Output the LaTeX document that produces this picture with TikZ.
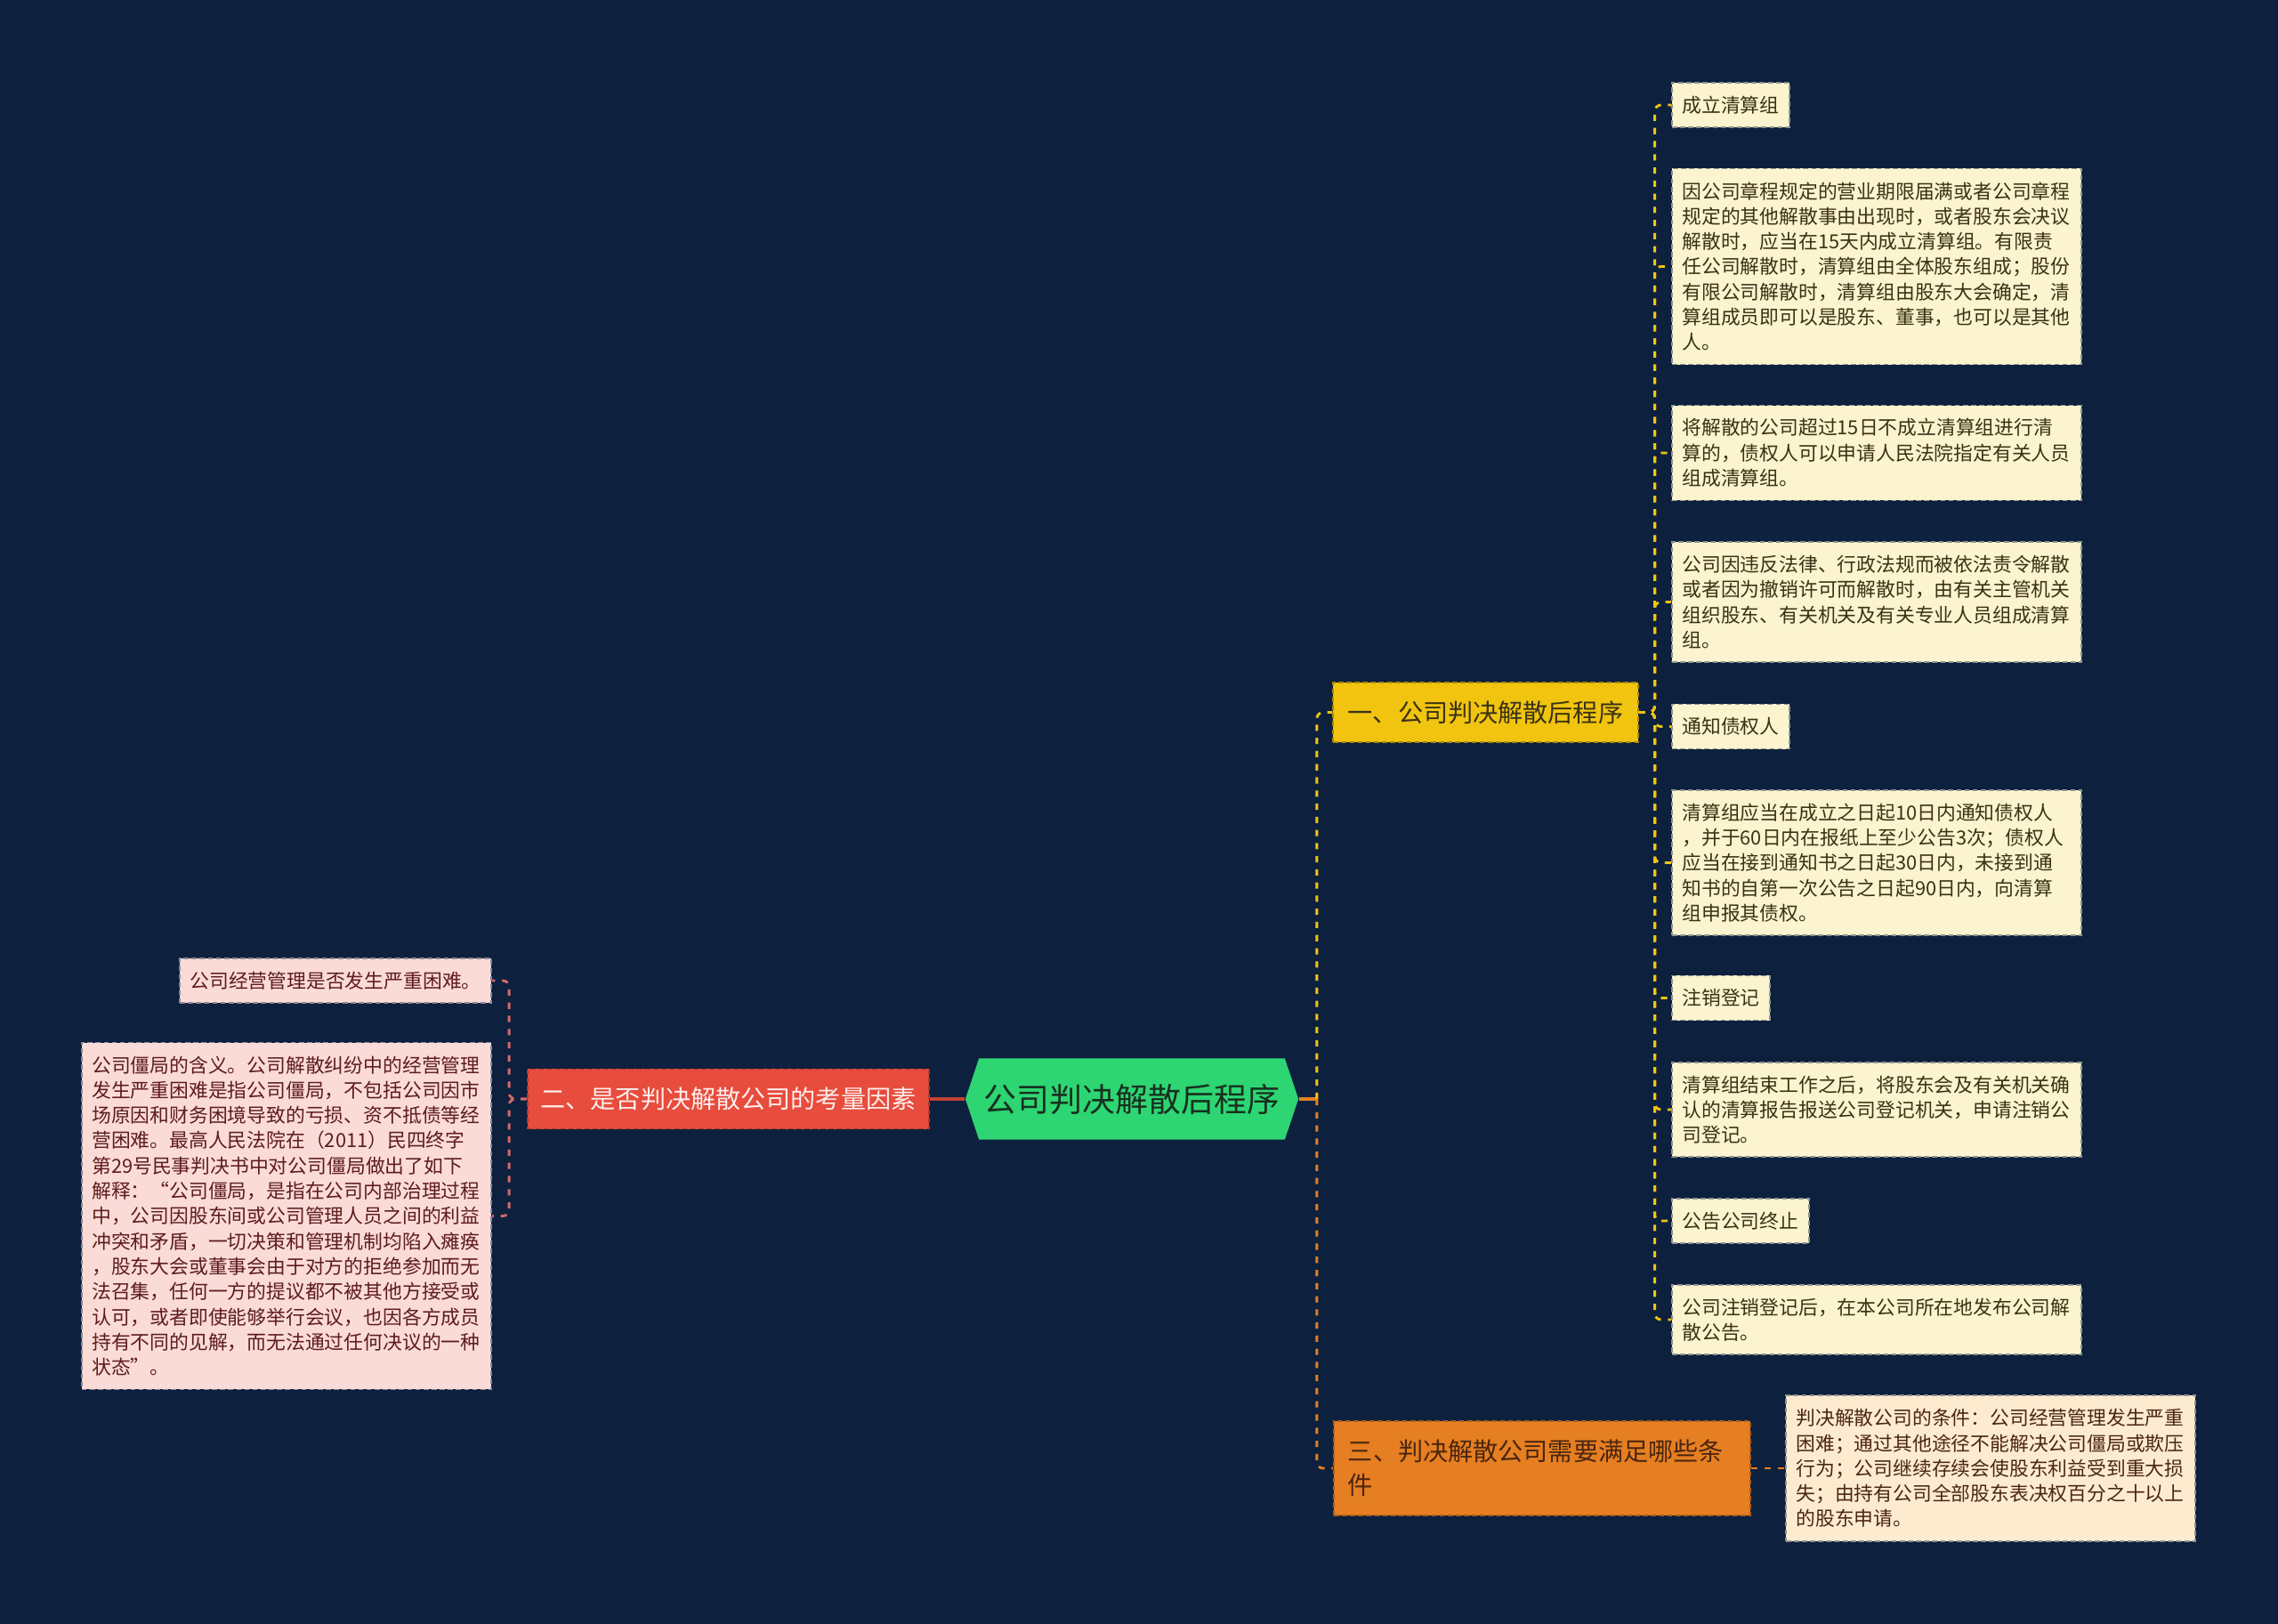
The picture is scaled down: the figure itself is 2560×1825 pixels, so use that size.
\documentclass[tikz,border=0pt]{standalone}
\usepackage{fontspec}
\newfontfamily\cjk{Noto Sans CJK SC}
\usetikzlibrary{shapes.symbols}
\definecolor{BgClr}{HTML}{0D213F}
\definecolor{RootClr}{HTML}{2ED573}
\definecolor{RootTxtClr}{HTML}{17301F}
\definecolor{YelClr}{HTML}{F1C40F}
\definecolor{RedClr}{HTML}{E74C3C}
\definecolor{OraClr}{HTML}{E67E22}
\definecolor{RConnClr}{HTML}{D46A6A}
\definecolor{YLeafClr}{HTML}{FCF3CF}
\definecolor{RLeafClr}{HTML}{FADBD8}
\definecolor{OLeafClr}{HTML}{FDEBD0}
\definecolor{YTxtClr}{HTML}{3A3214}
\definecolor{RTxtClr}{HTML}{5E1C1C}
\definecolor{OTxtClr}{HTML}{4A2610}
\definecolor{RedTxtClr}{HTML}{FDEDEC}

\begin{document}
\begin{tikzpicture}[x=0.01cm,y=-0.01cm,
  leaf/.style={font=\cjk\fontsize{6.2pt}{8.05pt}\selectfont, align=left,
    inner xsep=0.115cm, inner ysep=0.15cm, line width=0.5pt, dash pattern=on 1.6pt off 1pt},
  wide/.style={text width=4.37cm},
  yleaf/.style={leaf, fill=YLeafClr, draw=YLeafClr!55!BgClr, text=YTxtClr, anchor=west},
  rleaf/.style={leaf, fill=RLeafClr, draw=RLeafClr!55!BgClr, text=RTxtClr, anchor=east},
  oleaf/.style={leaf, fill=OLeafClr, draw=OLeafClr!55!BgClr, text=OTxtClr, anchor=west},
  branch/.style={font=\cjk\fontsize{8pt}{10.8pt}\selectfont, inner ysep=0pt,
    minimum height=0.67cm, line width=0.5pt, dash pattern=on 1.6pt off 1pt},
  conn/.style={line width=0.8pt, dash pattern=on 2pt off 2.2pt, rounded corners=2pt},
  stem/.style={line width=0.9pt}]

\fill[BgClr] (0,0) rectangle (2560,1825);

\node[signal, signal to=west and east, signal pointer angle=143, fill=RootClr,
  text=RootTxtClr, minimum width=3.74cm, minimum height=0.91cm, inner sep=0pt,
  font=\cjk\fontsize{10.5pt}{12pt}\selectfont] (Root) at (1272,1235) {公司判决解散后程序};

\node[branch, fill=YelClr, draw=YelClr!70!black, text=YTxtClr, inner xsep=0.165cm]
  (B1) at (1669.5,800.5) {一、公司判决解散后程序};
\node[branch, fill=RedClr, draw=RedClr!75!black, text=RedTxtClr, inner xsep=0.145cm]
  (B2) at (818.5,1235) {二、是否判决解散公司的考量因素};
\node[branch, fill=OraClr, draw=OraClr!75!black, text=OTxtClr, text width=4.36cm,
  align=left, inner xsep=0.16cm, minimum height=1.06cm]
  (B3) at (1733,1650) {三、判决解散公司需要满足哪些条\\件};

\node[yleaf] (Y1) at (1878,118) {成立清算组};
\node[yleaf, wide] (Y2) at (1878,299.5) {因公司章程规定的营业期限届满或者公司章程\\规定的其他解散事由出现时，或者股东会决议\\解散时，应当在15天内成立清算组。有限责\\任公司解散时，清算组由全体股东组成；股份\\有限公司解散时，清算组由股东大会确定，清\\算组成员即可以是股东、董事，也可以是其他\\人。};
\node[yleaf, wide] (Y3) at (1878,509) {将解散的公司超过15日不成立清算组进行清\\算的，债权人可以申请人民法院指定有关人员\\组成清算组。};
\node[yleaf, wide] (Y4) at (1878,676.5) {公司因违反法律、行政法规而被依法责令解散\\或者因为撤销许可而解散时，由有关主管机关\\组织股东、有关机关及有关专业人员组成清算\\组。};
\node[yleaf] (Y5) at (1878,816.5) {通知债权人};
\node[yleaf, wide] (Y6) at (1878,969.5) {清算组应当在成立之日起10日内通知债权人\\，并于60日内在报纸上至少公告3次；债权人\\应当在接到通知书之日起30日内，未接到通\\知书的自第一次公告之日起90日内，向清算\\组申报其债权。};
\node[yleaf] (Y7) at (1878,1121.5) {注销登记};
\node[yleaf, wide] (Y8) at (1878,1247) {清算组结束工作之后，将股东会及有关机关确\\认的清算报告报送公司登记机关，申请注销公\\司登记。};
\node[yleaf] (Y9) at (1878,1372) {公告公司终止};
\node[yleaf, wide] (Y10) at (1878,1483) {公司注销登记后，在本公司所在地发布公司解\\散公告。};

\node[rleaf] (R1) at (553,1102) {公司经营管理是否发生严重困难。};
\node[rleaf, wide] (R2) at (553,1366.5) {公司僵局的含义。公司解散纠纷中的经营管理\\发生严重困难是指公司僵局，不包括公司因市\\场原因和财务困境导致的亏损、资不抵债等经\\营困难。最高人民法院在（2011）民四终字\\第29号民事判决书中对公司僵局做出了如下\\解释：“公司僵局，是指在公司内部治理过程\\中，公司因股东间或公司管理人员之间的利益\\冲突和矛盾，一切决策和管理机制均陷入瘫痪\\，股东大会或董事会由于对方的拒绝参加而无\\法召集，任何一方的提议都不被其他方接受或\\认可，或者即使能够举行会议，也因各方成员\\持有不同的见解，而无法通过任何决议的一种\\状态”。};

\node[oleaf, wide] (O1) at (2006,1650) {判决解散公司的条件：公司经营管理发生严重\\困难；通过其他途径不能解决公司僵局或欺压\\行为；公司继续存续会使股东利益受到重大损\\失；由持有公司全部股东表决权百分之十以上\\的股东申请。};

\draw[stem, OraClr] (Root.east) -- ++(20,0) coordinate (RJ);
\draw[conn, YelClr] (RJ) |- (B1.west);
\draw[conn, OraClr] (RJ) |- (B3.west);
\draw[stem, RedClr!85!black] (Root.west) -- (B2.east);

\foreach \n in {1,...,10}
  \draw[conn, YelClr] (B1.east) -- ++(18,0) |- (Y\n.west);
\foreach \n in {1,2}
  \draw[conn, RConnClr] (B2.west) -- ++(-20,0) |- (R\n.east);
\draw[conn, OraClr] (B3.east) -- (O1.west);

\end{tikzpicture}
\end{document}
